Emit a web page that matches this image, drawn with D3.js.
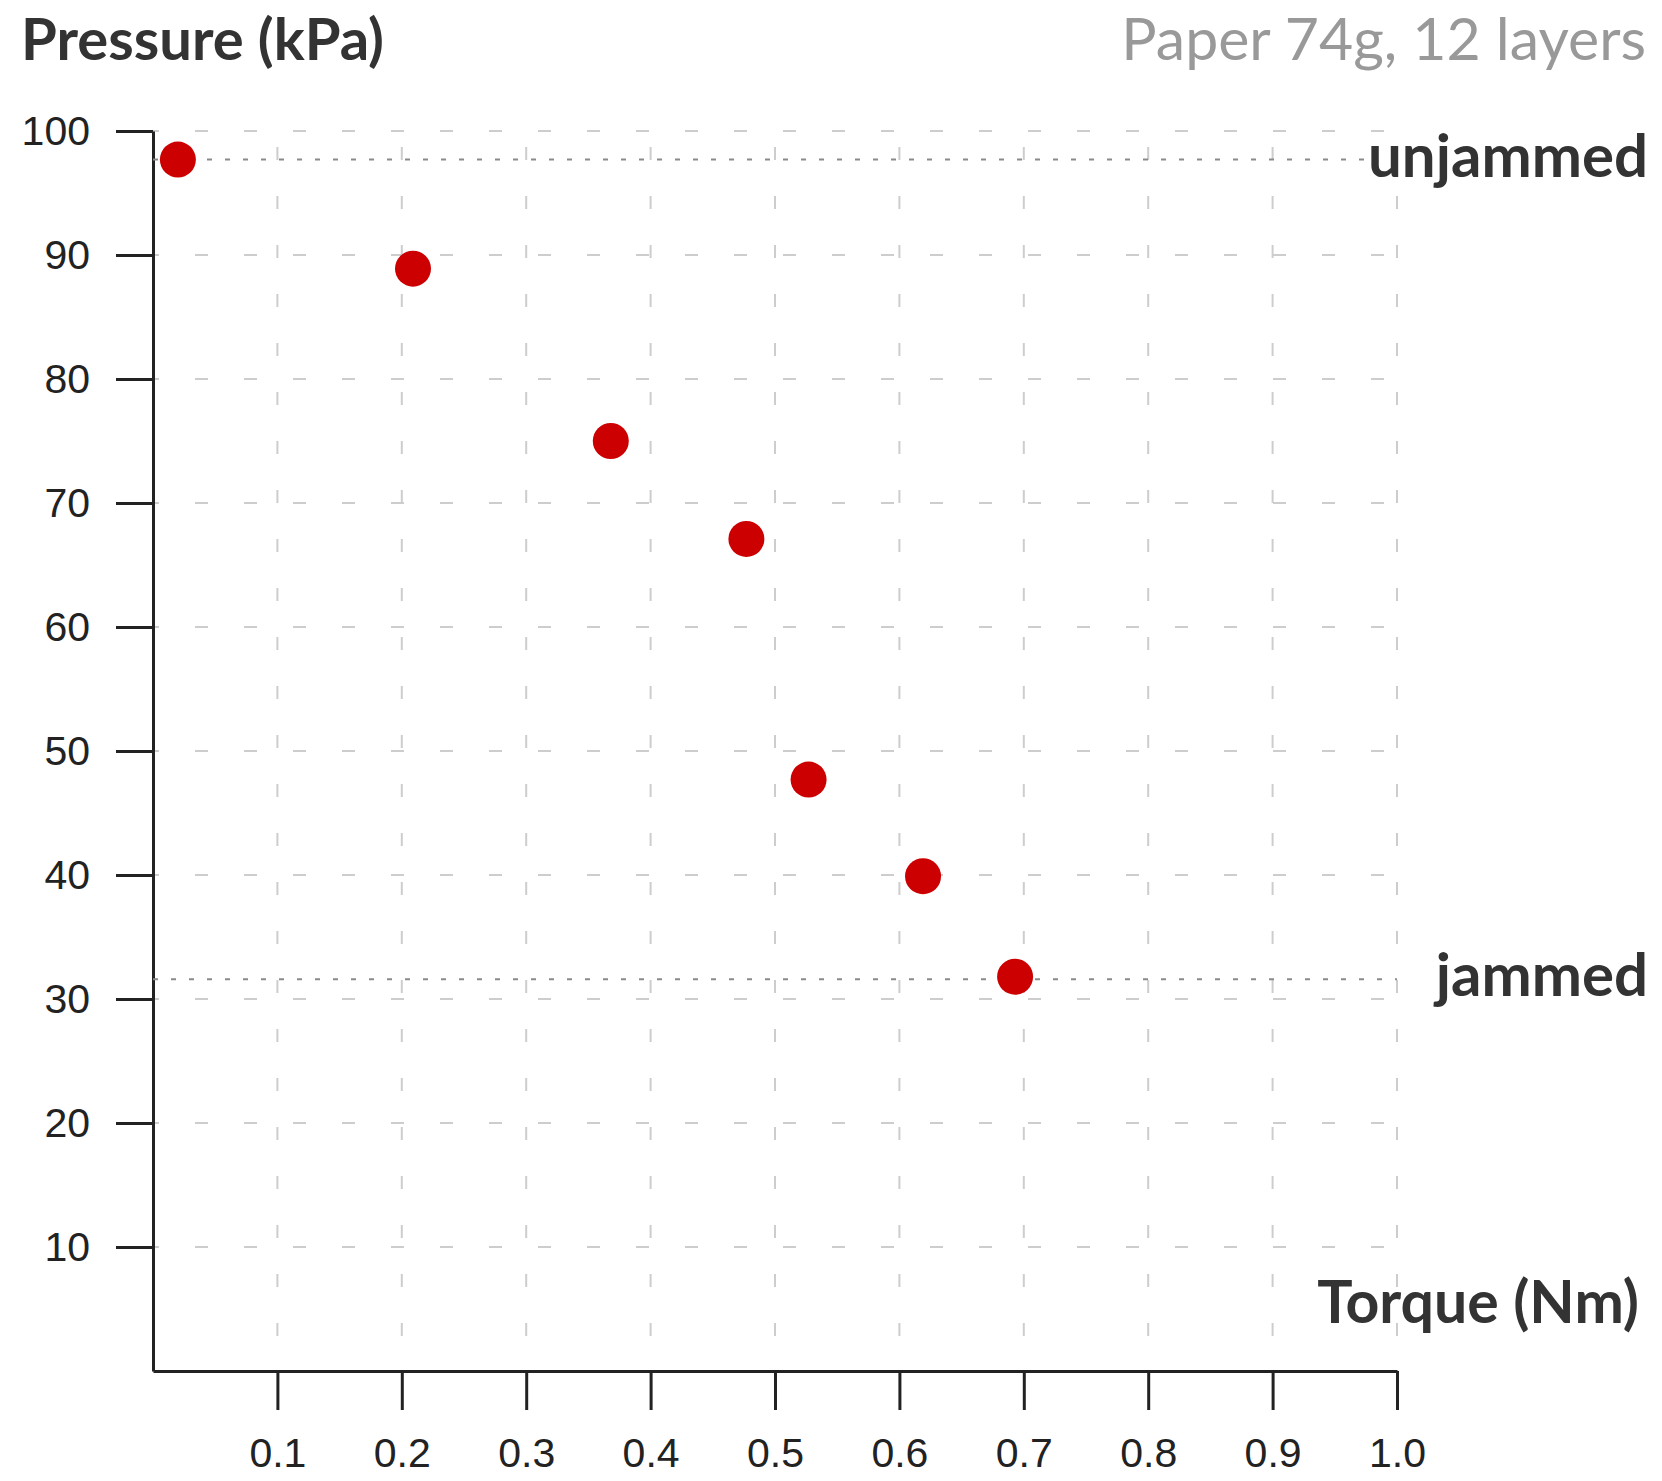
<!DOCTYPE html>
<html>
<head>
<meta charset="utf-8">
<script src="https://cdn.jsdelivr.net/npm/d3@7"></script>
<style>
  body { margin: 0; background: #fff; }
  .label { font-family: Lato, "Open Sans", sans-serif; }
  .tick text { font-family: "Liberation Sans", Arial, sans-serif; }
</style>
</head>
<body>
<svg width="1662" height="1481"></svg>
<script>
// data
var torque = [0.02, 0.209, 0.368, 0.477, 0.527, 0.619, 0.693];
var pressure = [97.7, 88.9, 75.0, 67.1, 47.7, 39.9, 31.8];
var xTicks = [0.1, 0.2, 0.3, 0.4, 0.5, 0.6, 0.7, 0.8, 0.9, 1.0];
var yTicks = [10, 20, 30, 40, 50, 60, 70, 80, 90, 100];
var refLevels = [
  {name: "unjammed", value: 97.7},
  {name: "jammed", value: 31.6}
];

var svg = d3.select("svg"),
    width = +svg.attr("width"),
    height = +svg.attr("height");

var x = d3.scaleLinear()
    .domain([0, 1])
    .range([153, 1397]);

var y = d3.scaleLinear()
    .domain([0, 100])
    .range([1371, 131]);

var ink = "#222";

// grid
var grid = svg.append("g").attr("class", "grid");

grid.selectAll("line.h")
  .data(yTicks)
  .enter().append("line")
    .attr("class", "h")
    .attr("x1", x(0))
    .attr("x2", x(1))
    .attr("y1", function(d) { return y(d); })
    .attr("y2", function(d) { return y(d); })
    .attr("stroke", "#cdcdcd")
    .attr("stroke-width", 2)
    .attr("stroke-dasharray", "13,36")
    .attr("stroke-dashoffset", -42);

grid.selectAll("line.v")
  .data(xTicks)
  .enter().append("line")
    .attr("class", "v")
    .attr("x1", function(d) { return x(d); })
    .attr("x2", function(d) { return x(d); })
    .attr("y1", y(100))
    .attr("y2", y(0))
    .attr("stroke", "#cdcdcd")
    .attr("stroke-width", 2)
    .attr("stroke-dasharray", "13,36")
    .attr("stroke-dashoffset", -16);

// axes
var yAxis = svg.append("g")
    .attr("transform", "translate(" + x(0) + ",0)")
    .call(d3.axisLeft(y)
      .tickValues(yTicks)
      .tickSize(37)
      .tickSizeOuter(0)
      .tickPadding(26));

var xAxis = svg.append("g")
    .attr("transform", "translate(0," + y(0) + ")")
    .call(d3.axisBottom(x)
      .tickValues(xTicks)
      .tickFormat(d3.format(".1f"))
      .tickSize(39)
      .tickSizeOuter(0)
      .tickPadding(28));

[yAxis, xAxis].forEach(function(a) {
  a.select(".domain").attr("stroke", ink).attr("stroke-width", 3);
  a.selectAll(".tick line").attr("stroke", ink).attr("stroke-width", 3);
  a.selectAll(".tick text")
    .attr("fill", ink)
    .style("font-size", "41px");
});
xAxis.selectAll(".tick text").attr("dy", "0.71em");

// titles
svg.append("text")
    .attr("class", "label")
    .attr("x", 21)
    .attr("y", 60)
    .attr("fill", "#333")
    .attr("font-weight", "bold")
    .style("font-size", "58px")
    .text("Pressure (kPa)");

svg.append("text")
    .attr("class", "label")
    .attr("x", 1646)
    .attr("y", 60)
    .attr("fill", "#999")
    .attr("text-anchor", "end")
    .style("font-size", "59px")
    .text("Paper 74g, 12 layers");

svg.append("text")
    .attr("class", "label")
    .attr("x", 1639)
    .attr("y", 1323)
    .attr("fill", "#333")
    .attr("font-weight", "bold")
    .attr("text-anchor", "end")
    .style("font-size", "59px")
    .text("Torque (Nm)");

// reference levels
var refs = svg.append("g").selectAll("g")
  .data(refLevels)
  .enter().append("g");

refs.append("text")
    .attr("class", "label")
    .attr("x", 1648)
    .attr("y", function(d) { return y(d.value) + 17; })
    .attr("fill", "#333")
    .attr("font-weight", "bold")
    .attr("text-anchor", "end")
    .style("font-size", "60px")
    .text(function(d) { return d.name; });

refs.insert("line", "text")
    .attr("x1", x(0))
    .attr("x2", function(d) {
      var left = this.parentNode.querySelector("text").getBBox().x - 4;
      return Math.min(left, x(1));
    })
    .attr("y1", function(d) { return y(d.value); })
    .attr("y2", function(d) { return y(d.value); })
    .attr("stroke", "#8a8a8a")
    .attr("stroke-width", 2)
    .attr("stroke-dasharray", "5,13");

// points
svg.append("g")
  .selectAll("circle")
  .data(torque.map(function(t, i) { return {t: t, p: pressure[i]}; }))
  .enter().append("circle")
    .attr("cx", function(d) { return x(d.t); })
    .attr("cy", function(d) { return y(d.p); })
    .attr("r", 18)
    .attr("fill", "#cc0000");
</script>
</body>
</html>
